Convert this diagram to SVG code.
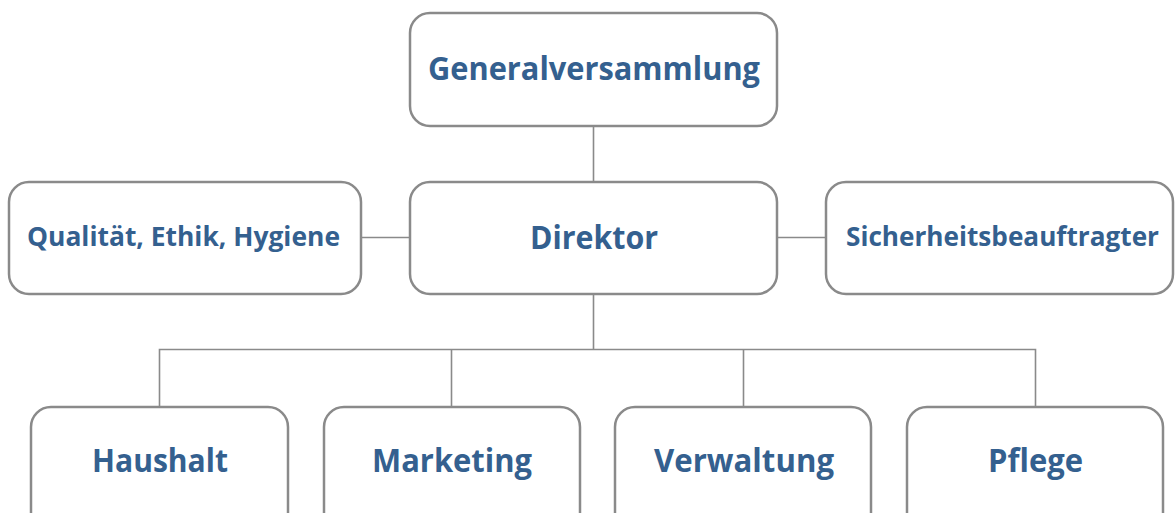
<svg xmlns="http://www.w3.org/2000/svg" width="1175" height="513" viewBox="0 0 1175 513">
<style>
.box{fill:#fff;stroke:#8a8a8a;stroke-width:2.5}
.lbl{font-family:"Open Sans","Noto Sans",sans-serif;font-weight:bold;fill:#34608f;text-anchor:middle}
.big{font-size:33px}
.small{font-size:26px}
.con{stroke:#8a8a8a;stroke-width:1.6;fill:none}
</style>
<rect width="1175" height="513" fill="#fff"/>
<g id="connectors">
<line class="con" x1="593.5" y1="126" x2="593.5" y2="182"/>
<line class="con" x1="361" y1="237.5" x2="410" y2="237.5"/>
<line class="con" x1="777" y1="237.5" x2="826" y2="237.5"/>
<line class="con" x1="593.5" y1="294" x2="593.5" y2="349.5"/>
<polyline class="con" points="159.5,407 159.5,349.5 1035.5,349.5 1035.5,407"/>
<line class="con" x1="451.5" y1="349.5" x2="451.5" y2="407"/>
<line class="con" x1="743.5" y1="349.5" x2="743.5" y2="407"/>
</g>
<g id="generalversammlung">
<rect class="box" x="410" y="13" width="367" height="113" rx="20"/>
<text class="lbl big" x="594" y="80" textLength="332" lengthAdjust="spacingAndGlyphs">Generalversammlung</text>
</g>
<g id="direktor">
<rect class="box" x="410" y="182" width="367" height="112" rx="20"/>
<text class="lbl big" x="594" y="249" textLength="128" lengthAdjust="spacingAndGlyphs">Direktor</text>
</g>
<g id="qualitaet">
<rect class="box" x="9" y="182" width="352" height="112" rx="20"/>
<text class="lbl small" x="183.5" y="246" textLength="313" lengthAdjust="spacingAndGlyphs">Qualität, Ethik, Hygiene</text>
</g>
<g id="sicherheit">
<rect class="box" x="826" y="182" width="347" height="112" rx="20"/>
<text class="lbl small" x="1002.5" y="246" textLength="313" lengthAdjust="spacingAndGlyphs">Sicherheitsbeauftragter</text>
</g>
<g id="haushalt">
<rect class="box" x="31" y="407" width="257" height="130" rx="20"/>
<text class="lbl big" x="160" y="472" textLength="136" lengthAdjust="spacingAndGlyphs">Haushalt</text>
</g>
<g id="marketing">
<rect class="box" x="324" y="407" width="256" height="130" rx="20"/>
<text class="lbl big" x="452" y="472" textLength="160" lengthAdjust="spacingAndGlyphs">Marketing</text>
</g>
<g id="verwaltung">
<rect class="box" x="615" y="407" width="256" height="130" rx="20"/>
<text class="lbl big" x="744" y="472" textLength="180" lengthAdjust="spacingAndGlyphs">Verwaltung</text>
</g>
<g id="pflege">
<rect class="box" x="907" y="407" width="256" height="130" rx="20"/>
<text class="lbl big" x="1035.5" y="472" textLength="95" lengthAdjust="spacingAndGlyphs">Pflege</text>
</g>
</svg>
